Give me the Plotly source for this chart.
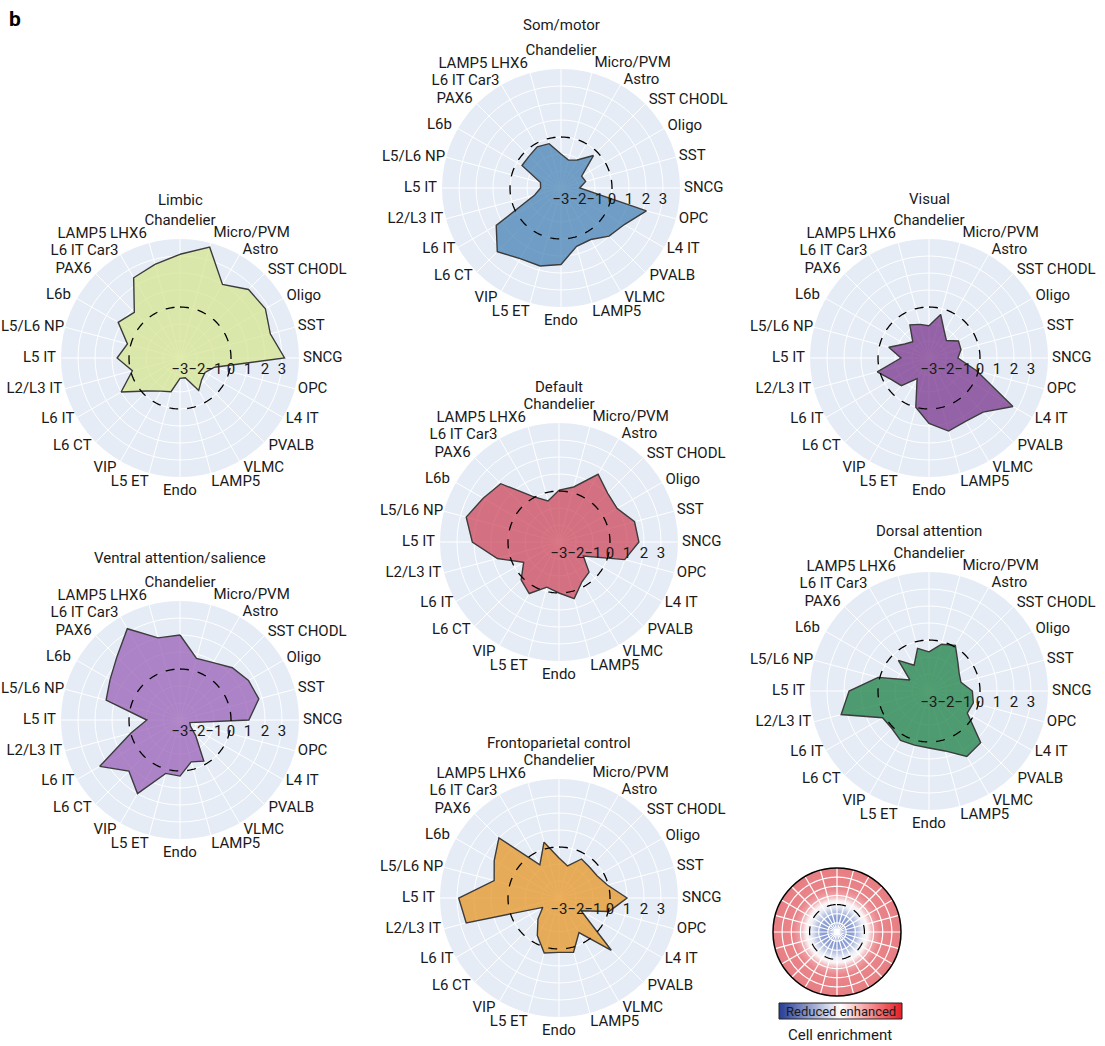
import numpy as np
import plotly.graph_objects as go

W, H = 1105, 1046

categories = ["Chandelier", "Micro/PVM", "Astro", "SST CHODL", "Oligo", "SST", "SNCG",
              "OPC", "L4 IT", "PVALB", "VLMC", "LAMP5", "Endo", "L5 ET", "VIP", "L6 CT",
              "L6 IT", "L2/L3 IT", "L5 IT", "L5/L6 NP", "L6b", "PAX6", "L6 IT Car3",
              "LAMP5 LHX6"]

radial_ticks = [-3, -2, -1, 0, 1, 2, 3]

som_motor = [-1.0, -1.3, -1.1, -0.3, -1.6, -1.5, -1.9, 2.2, 1.3, 1.0, 0.5, 0.55,
             1.5, 1.75, 1.8, 2.3, 1.4, -1.4, -1.8, -1.75, -0.35, -0.35, -0.2, -0.3]
limbic = [3.1, 3.75, 2.0, 2.7, 2.8, 2.5, 3.15, -0.9, -1.3, -1.2, -0.8, -1.8,
          -1.8, -0.95, -0.75, -0.25, 1.0, -0.1, 0.7, 0.2, 1.2, 0.8, 2.45, 2.7]
visual = [-1.1, -0.35, -1.2, -1.55, -1.0, -1.05, -1.3, -0.1, 2.7, 1.5, 1.3, 1.45,
          0.85, 0.0, -1.6, -0.7, -0.45, 0.15, -1.35, -0.55, -1.35, -1.65, -0.75, -0.95]
default = [0.05, 0.35, 1.6, 1.05, 0.95, 1.6, 1.7, 1.0, -1.35, -0.5, -0.3, 0.45,
           0.0, -0.25, 0.5, 0.15, -0.6, 0.75, 2.1, 2.65, 2.15, 1.85, 0.1, -0.5]
ventral = [2.0, 0.75, 0.9, 1.35, 1.65, 1.8, 1.05, -2.4, -2.3, -1.7, -0.2, -0.45,
           0.3, 0.25, 2.0, 1.25, 2.45, 0.0, -1.05, 1.5, 1.75, 2.25, 3.2, 2.0]
dorsal = [-0.7, -0.15, 0.1, -0.6, -0.95, -1.05, -0.45, -0.3, -0.4, 1.3, 1.45, 0.65,
          0.35, 0.3, 0.35, 0.1, 0.15, 2.35, 1.7, 0.1, -1.7, -0.45, -1.25, -0.4]
frontoparietal = [-0.65, -1.05, -0.35, -0.45, -0.4, -0.05, 1.0, 0.05, -1.5, 1.35, -0.65, 0.3,
                  0.2, 0.35, -0.45, -1.25, -1.9, 2.65, 2.9, 0.95, 1.4, 2.0, -0.75, 0.4]

networks = ["Som/motor", "Limbic", "Visual", "Default", "Ventral attention/salience",
            "Dorsal attention", "Frontoparietal control"]
series = [som_motor, limbic, visual, default, ventral, dorsal, frontoparietal]
fill_colors = ["rgba(70,130,180,0.74)", "rgba(215,230,150,0.78)", "rgba(125,60,145,0.78)",
               "rgba(205,70,90,0.74)", "rgba(150,90,180,0.72)", "rgba(40,135,80,0.80)",
               "rgba(230,150,40,0.76)"]

# layout: centre (px), title y (px)
panel_pos = [(561, 188, 25), (180, 358, 200), (929, 358, 199), (559, 542, 387),
             (180, 720, 558), (929, 691, 531), (559, 898, 743)]
R = 119            # radius of data circles (px)
R_LAB = R + 20     # radius of the label overlay subplot (px)
RMIN, RMAX = -3, 4

legend_levels = list(np.round(np.arange(-3.0, 4.0, 0.1), 2))
legend_scale = [[0.0, "rgb(100,122,198)"], [0.25, "rgb(146,164,214)"],
                [0.40, "rgb(236,238,246)"], [0.47, "rgb(251,246,247)"],
                [0.58, "rgb(238,160,165)"], [0.68, "rgb(233,133,138)"],
                [1.0, "rgb(231,126,131)"]]
legend_grid_r = [-2, -1, 1, 2, 3]
cbar_vals = list(np.round(np.linspace(-1, 1, 101), 3))
cbar_scale = [[0.0, "rgb(40,62,150)"], [0.5, "rgb(255,255,255)"], [1.0, "rgb(230,32,38)"]]

FONT = "Roboto"
TXT = "#1a1a1a"
angles = [i * 360 / len(categories) for i in range(len(categories))]

# gap (px) between circle edge and label anchor, by angle
LABEL_GAP = {0: 10, 15: 10, 30: 6, 45: 5, 60: 4, 75: 3, 90: 4, 105: 3, 120: 3, 135: 6,
             150: 8, 165: 2, 180: 7, 195: 2, 210: 8, 225: 6, 240: 3, 255: 3, 270: 5,
             285: 1, 300: 7, 315: 6, 330: 4, 345: 9}


def label_anchor(a):
    if a == 0:
        return "top center"
    if a == 180:
        return "bottom center"
    if a == 165:
        return "bottom right"
    if a == 195:
        return "bottom left"
    return "middle right" if a < 180 else "middle left"


label_positions = [label_anchor(a) for a in angles]
label_r = [R + LABEL_GAP[int(a)] for a in angles]

fig = go.Figure()


def dom(cx, cy, r):
    return dict(x=[(cx - r) / W, (cx + r) / W], y=[1 - (cy + r) / H, 1 - (cy - r) / H])


def polar_cfg(cx, cy, r, labels=True):
    return dict(
        domain=dom(cx, cy, r),
        bgcolor="#E5ECF6",
        angularaxis=dict(type="linear", thetaunit="degrees", direction="clockwise", rotation=90,
                         tickmode="array", tickvals=angles, showticklabels=False,
                         gridcolor="white", gridwidth=1, showline=False, ticks=""),
        radialaxis=dict(range=[RMIN, RMAX], tickmode="array", tickvals=radial_ticks, angle=0,
                        tickangle=0, side="clockwise",
                        showticklabels=labels, gridcolor="white", gridwidth=1,
                        showline=False, ticks="",
                        tickfont=dict(family=FONT, size=15, color=TXT)),
    )


def label_cfg(cx, cy):
    return dict(
        domain=dom(cx, cy, R_LAB),
        bgcolor="rgba(0,0,0,0)",
        angularaxis=dict(type="linear", thetaunit="degrees", direction="clockwise", rotation=90,
                         showgrid=False, showline=False, showticklabels=False, ticks=""),
        radialaxis=dict(range=[0, R_LAB], visible=False, showgrid=False),
    )


circle_theta = list(np.arange(0, 361, 2))

for i, (name, vals, col) in enumerate(zip(networks, series, fill_colors)):
    pid = "polar" if i == 0 else f"polar{i + 1}"
    lab_id = f"polar{i + 9}"
    cx, cy, ty = panel_pos[i]
    fig.add_trace(go.Scatterpolar(
        r=vals + [vals[0]], theta=angles + [angles[0]], subplot=pid,
        mode="lines", fill="toself", fillcolor=col,
        line=dict(color="#3c3c3c", width=1.4), showlegend=False, hoverinfo="skip"))
    fig.add_trace(go.Scatterpolar(
        r=[0] * len(circle_theta), theta=circle_theta, subplot=pid, mode="lines",
        line=dict(color="black", width=1.3, dash="dash"), showlegend=False, hoverinfo="skip"))
    fig.add_trace(go.Scatterpolar(
        r=label_r, theta=angles, subplot=lab_id, mode="text", text=categories,
        textposition=label_positions, cliponaxis=False,
        textfont=dict(family=FONT, size=15, color=TXT), showlegend=False, hoverinfo="skip"))
    fig.layout[pid] = polar_cfg(cx, cy, R)
    fig.layout[lab_id] = label_cfg(cx, cy)
    fig.add_annotation(x=cx / W, y=1 - ty / H, xref="paper", yref="paper", text=name,
                       showarrow=False, xanchor="center", yanchor="middle",
                       font=dict(family=FONT, size=15, color=TXT))

# legend polar with gradient
lcx, lcy, lr = 837, 932, 64
lid = "polar8"
for th in (90, 270):
    fig.add_trace(go.Barpolar(
        r=[0.25] * len(legend_levels), base=legend_levels, theta=[th] * len(legend_levels),
        width=[182] * len(legend_levels), subplot=lid,
        marker=dict(color=legend_levels, colorscale=legend_scale, cmin=-3, cmax=4,
                    line=dict(width=0)),
        showlegend=False, hoverinfo="skip"))
for gr in legend_grid_r:
    fig.add_trace(go.Scatterpolar(
        r=[gr] * len(circle_theta), theta=circle_theta, subplot=lid, mode="lines",
        line=dict(color="white", width=1.2), showlegend=False, hoverinfo="skip"))
for a in angles:
    fig.add_trace(go.Scatterpolar(
        r=[RMIN, RMAX], theta=[a, a], subplot=lid, mode="lines",
        line=dict(color="white", width=1.2), showlegend=False, hoverinfo="skip"))
fig.add_trace(go.Scatterpolar(
    r=[0] * len(circle_theta), theta=circle_theta, subplot=lid, mode="lines",
    line=dict(color="black", width=1.2, dash="dash"), showlegend=False, hoverinfo="skip"))
lcfg = polar_cfg(lcx, lcy, lr, labels=False)
lcfg["bgcolor"] = "rgb(231,126,131)"
lcfg["angularaxis"].update(showline=True, linecolor="black", linewidth=1.5, layer="above traces")
lcfg["barmode"] = "overlay"
fig.layout[lid] = lcfg

# colour bar
fig.add_trace(go.Heatmap(z=[cbar_vals], x=cbar_vals, colorscale=cbar_scale, zmin=-1, zmax=1,
                         showscale=False, xaxis="x", yaxis="y", hoverinfo="skip"))
bx0, bx1, by0, by1 = 779, 902, 1003, 1019
fig.update_layout(
    xaxis=dict(domain=[bx0 / W, bx1 / W], visible=False, range=[-1.01, 1.01], fixedrange=True),
    yaxis=dict(domain=[1 - by1 / H, 1 - by0 / H], visible=False, range=[-0.5, 0.5], fixedrange=True),
)
fig.add_shape(type="rect", xref="paper", yref="paper", x0=bx0 / W, x1=bx1 / W,
              y0=1 - by1 / H, y1=1 - by0 / H, line=dict(color="#222", width=1))
fig.add_annotation(x=(bx0 + bx1) / 2 / W, y=1 - (by0 + by1) / 2 / H, xref="paper", yref="paper",
                   text="Reduced enhanced", showarrow=False, xanchor="center", yanchor="middle",
                   font=dict(family=FONT, size=13, color=TXT))
fig.add_annotation(x=840 / W, y=1 - 1035 / H, xref="paper", yref="paper",
                   text="Cell enrichment", showarrow=False, xanchor="center", yanchor="middle",
                   font=dict(family=FONT, size=15, color=TXT))
fig.add_annotation(x=15 / W, y=1 - 19 / H, xref="paper", yref="paper", text="<b>b</b>",
                   showarrow=False, xanchor="center", yanchor="middle",
                   font=dict(family=FONT, size=21, color="black"))

fig.update_layout(width=W, height=H, margin=dict(l=0, r=0, t=0, b=0),
                  paper_bgcolor="white", plot_bgcolor="white", showlegend=False,
                  font=dict(family=FONT))
fig.write_html("out.html", config={"displayModeBar": False})
